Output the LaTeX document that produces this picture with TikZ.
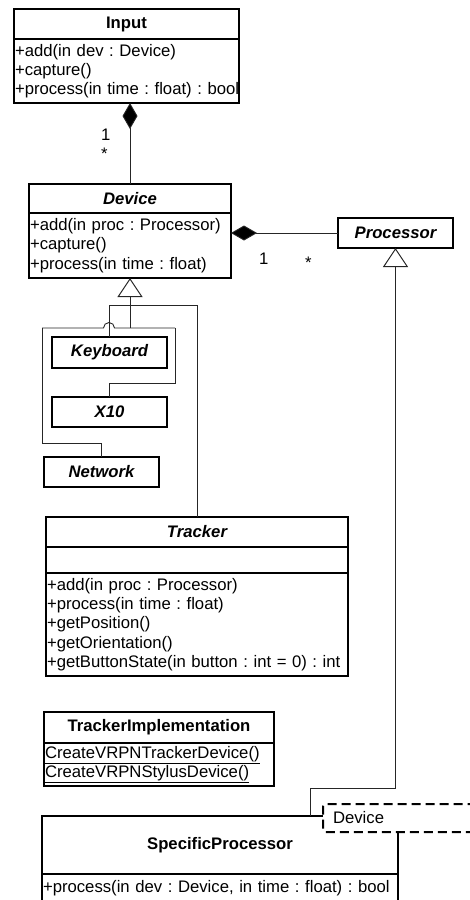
\documentclass[tikz,border=0pt]{standalone}
\usepackage{fontspec}
\setmainfont{Liberation Sans}
\usetikzlibrary{arrows.meta}
\frenchspacing
\begin{document}
\begin{tikzpicture}[x=1pt,y=-1pt,
  box/.style={draw=black, line width=1.1pt, fill=white, anchor=north west,
    inner sep=0pt, outer sep=0pt},
  txt/.style={font=\fontsize{16.7}{19.2}\selectfont},
  ttl/.style={box, txt, font=\fontsize{16.7}{19.2}\selectfont\bfseries},
  abst/.style={box, txt, font=\fontsize{16.7}{19.2}\selectfont\bfseries\itshape},
  ops/.style={box, txt, align=left, inner xsep=1pt, text width=#1},
  conn/.style={draw=black!85, line width=0.9pt},
  gen/.style={conn, -{Triangle[length=19pt,width=25pt,fill=white,line width=1pt]}},
  comp/.style={conn, {Diamond[length=26pt,width=15pt,fill=black]}-},
  mult/.style={txt, inner sep=0pt, anchor=base west}
]
\useasboundingbox (0,0) rectangle (469,900);

% Input
\node[ttl, minimum width=225pt, minimum height=30pt] (inputT) at (14,9) {Input};
\node[ops=223pt, minimum width=225pt, minimum height=64pt] (inputB) at (14,39)
  {+add(in dev : Device)\\+capture()\\\mbox{+process(in time : float) : bool}};

% Device
\node[abst, minimum width=202pt, minimum height=29pt] (deviceT) at (29,184) {Device};
\node[ops=200pt, minimum width=202pt, minimum height=65pt] (deviceB) at (29,213)
  {+add(in proc : Processor)\\+capture()\\+process(in time : float)};

% Processor
\node[abst, minimum width=115pt, minimum height=30pt] (procN) at (338,218) {Processor};

% Concrete devices
\node[abst, minimum width=115pt, minimum height=31pt] (keyboard) at (52,337) {Keyboard};
\node[abst, minimum width=115pt, minimum height=30pt] (x10) at (52,397) {X10};
\node[abst, minimum width=115pt, minimum height=30pt] (network) at (44,457) {Network};

% Tracker
\node[abst, minimum width=302pt, minimum height=30pt] (trackerT) at (46,517) {Tracker};
\node[box, minimum width=302pt, minimum height=26pt] (trackerA) at (46,547) {};
\node[ops=300pt, minimum width=302pt, minimum height=103pt] (trackerO) at (46,573)
  {+add(in proc : Processor)\\+process(in time : float)\\+getPosition()\\+getOrientation()\\+getButtonState(in button : int = 0) : int};

% TrackerImplementation
\node[ttl, minimum width=230pt, minimum height=31pt] (implT) at (44,712) {TrackerImplementation};
\node[ops=228pt, minimum width=230pt, minimum height=43pt] (implB) at (44,743)
  {\underline{CreateVRPNTrackerDevice()}\\\underline{CreateVRPNStylusDevice()}};

% SpecificProcessor with its template parameter
\node[ttl, minimum width=356pt, minimum height=58pt] (specT) at (42,816) {SpecificProcessor};
\node[ops=354pt, minimum width=356pt, minimum height=28pt] (specB) at (42,874)
  {+process(in dev : Device, in time : float) : bool};
\node[draw=black, line width=2pt, dash pattern=on 9pt off 5pt, rounded corners=2.5pt,
  fill=white, anchor=north west, minimum width=170pt, minimum height=28pt,
  txt, align=left, text width=150pt, inner xsep=9pt, inner ysep=0pt] (tmpl) at (322,803) {Device};

% Input <>-- Device
\draw[comp] (deviceT.north |- inputB.south) -- (deviceT.north);
\node[mult] (m1) at (101,140) {1};
\node[mult] (m2) at (101,159) {*};

% Device <>-- Processor
\draw[comp] (procN.west -| deviceB.east) -- (procN.west);
\node[mult] (m3) at (259,264) {1};
\node[mult] (m4) at (305,268) {*};

% Generalizations to Device
\path (deviceB.south) ++(0,50) coordinate (devhub);
\coordinate (hl) at (42,328);
\coordinate (hr) at (175,328);
\draw[gen] (devhub) -- (deviceB.south);
\draw[conn] (hl) -- (103.5,328) arc (180:360:5.5) -- (hr);
\draw[conn] (hl) -- (42,443) -| (network.north);
\draw[conn] (hr) -- (175,383) -| (x10.north);
\draw[conn] (keyboard.north) -- ++(0,-32) -| (trackerT.north);

% Generalization to Processor
\path (procN.south) ++(0,19) coordinate (pgen);
\draw[gen] (pgen) -- (procN.south);
\draw[conn] (specT.north -| 310,0) -- (310,788) -| (pgen);
\end{tikzpicture}
\end{document}
